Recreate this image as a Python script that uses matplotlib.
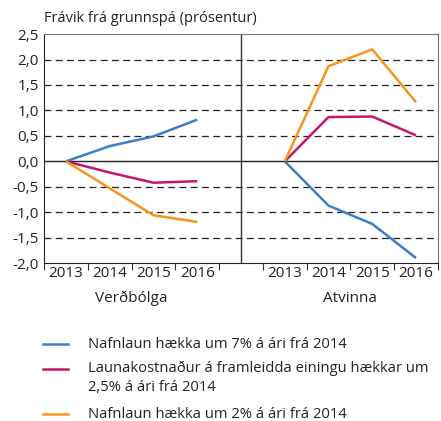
import matplotlib.pyplot as plt
from matplotlib.lines import Line2D

plt.rcParams['font.family'] = ['Open Sans', 'DejaVu Sans']

# ========== Gögn ==========
years = ["2013", "2014", "2015", "2016"]
panels = ["Verðbólga", "Atvinna"]

series_names = [
    "Nafnlaun hækka um 7% á ári frá 2014",
    "Launakostnaður á framleidda einingu hækkar um\n2,5% á ári frá 2014",
    "Nafnlaun hækka um 2% á ári frá 2014",
]
colors = ["#3b7ec8", "#c2166b", "#f7941d"]

# Verðbólga
infl_blue = [0.0, 0.30, 0.49, 0.82]
infl_purple = [0.0, -0.22, -0.42, -0.39]
infl_orange = [0.0, -0.53, -1.06, -1.19]

# Atvinna
emp_blue = [0.0, -0.87, -1.23, -1.90]
emp_purple = [0.0, 0.87, 0.88, 0.51]
emp_orange = [0.0, 1.87, 2.20, 1.16]

yticks = [-2.0, -1.5, -1.0, -0.5, 0.0, 0.5, 1.0, 1.5, 2.0, 2.5]

W, H = 441, 421
fig = plt.figure(figsize=(W / 100, H / 100), dpi=100)
ax = fig.add_axes([0.1, 0.375, 0.893, 0.544])

left_x = [i + 0.5 for i in range(len(years))]
right_x = [i + 5.5 for i in range(len(years))]

# grid
for v in yticks:
    if v == 0.0:
        ax.axhline(v, color="#222222", lw=1.0, zorder=1)
    elif v not in (2.5, -2.0):
        ax.axhline(v, color="#222222", lw=0.9, ls=(0, (5.5, 3.5)), zorder=1)
ax.axvline(4.5, color="#333333", lw=1.0, zorder=1)

for data, x in [((infl_blue, infl_purple, infl_orange), left_x),
                ((emp_blue, emp_purple, emp_orange), right_x)]:
    for vals, c in zip(data, colors):
        ax.plot(x, vals, color=c, lw=1.8, solid_capstyle="butt", zorder=3)

ax.set_xlim(0, 9)
ax.set_ylim(-2.0, 2.5)
ax.set_yticks(yticks)
ax.set_yticklabels([f"{v:.1f}".replace(".", ",") for v in yticks], fontsize=11)
ax.tick_params(axis="y", length=0, pad=4, labelcolor="#222222")

ax.set_xticks([0, 1, 2, 3, 4, 5, 6, 7, 8, 9])
ax.set_xticklabels([])
ax.tick_params(axis="x", which="major", length=5, direction="out", color="#333333")
ax.set_xticks(left_x + right_x, minor=True)
ax.set_xticklabels(years + years, minor=True, fontsize=11)
ax.tick_params(axis="x", which="minor", length=0, pad=2, labelcolor="#222222")

for x, name in zip([2.0, 7.0], panels):
    ax.text(x, -0.155, name, transform=ax.get_xaxis_transform(),
            ha="center", va="center", fontsize=11, color="#222222")

ax.spines["left"].set_color("#222222")
ax.spines["bottom"].set_color("#222222")
ax.spines["top"].set_color("#777777")
ax.spines["right"].set_color("#777777")

fig.text(0.1, 0.957, "Frávik frá grunnspá (prósentur)", fontsize=10.5,
         color="#222222", ha="left", va="center")

# skýringar: línan stendur við fyrstu textalínu
legend_y = [344, 369, 414]
for name, c, y in zip(series_names, colors, legend_y):
    fy = 1 - y / H
    fig.add_artist(Line2D([43 / W, 68 / W], [fy, fy], color=c, lw=1.8,
                          transform=fig.transFigure))
    if "\n" in name:
        fig.text(88 / W, fy + 8 / H, name, fontsize=10.6, color="#222222",
                 ha="left", va="top", linespacing=1.3)
    else:
        fig.text(88 / W, fy, name, fontsize=10.6, color="#222222",
                 ha="left", va="center")

fig.savefig("out.png", dpi=100)
